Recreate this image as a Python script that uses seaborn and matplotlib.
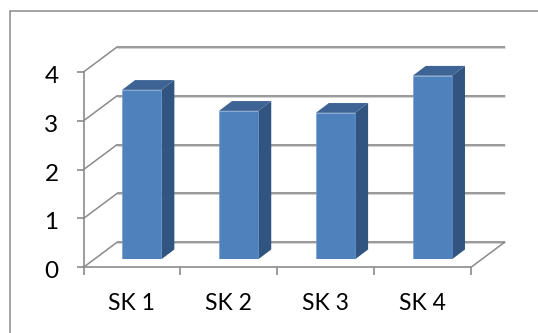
import matplotlib
matplotlib.use("Agg")
import matplotlib.pyplot as plt
from matplotlib.lines import Line2D
from matplotlib.patches import Polygon
from matplotlib.transforms import Affine2D
import pandas as pd
import seaborn as sns

categories = ["SK 1", "SK 2", "SK 3", "SK 4"]
values = [3.47, 3.04, 3.00, 3.76]
y_ticks = [0, 1, 2, 3, 4]

sns.set_theme(style="white")
plt.rcParams["font.family"] = ["Lato", "DejaVu Sans"]

WIDTH, HEIGHT, DPI = 538, 333, 100
LINE = "#8b8b8b"
HALO = "#d2d2d2"
FRONT = "#4f81bd"
SIDE = "#325480"
TOP = "#3d6494"

# Perspective offsets in pixels
WALL_DX, WALL_DY = 33.5, 25.0
BAR_DX, BAR_DY = 9.8, 8.0
DEPTH_DX, DEPTH_DY = 13.0, 9.8

fig = plt.figure(figsize=(WIDTH / DPI, HEIGHT / DPI), dpi=DPI, facecolor="white")


def frac_box(left, top, right, bottom):
    return [left / WIDTH, 1 - bottom / HEIGHT, (right - left) / WIDTH, (bottom - top) / HEIGHT]


# Outer chart border, open towards the right and bottom edges
for xs, ys in [((9.5, 9.5), (HEIGHT, 10.5)), ((9.5, WIDTH), (10.5, 10.5))]:
    fig.add_artist(Line2D([x / WIDTH for x in xs], [1 - y / HEIGHT for y in ys],
                          color=LINE, lw=1.1))

ax = fig.add_axes(frac_box(83.5, 72, 471, 267.3))
ax.set_xlim(-0.5, len(categories) - 0.5)
ax.set_ylim(0, 4)
ax.patch.set_visible(False)
sns.despine(ax=ax)
for side in ("left", "bottom"):
    ax.spines[side].set_color(LINE)
    ax.spines[side].set_linewidth(1.2)

wall = ax.transData + Affine2D().translate(WALL_DX, WALL_DY)
x_lo, x_hi = ax.get_xlim()


def depth_line(xs, ys, transform):
    """Grey rule with a faint soft edge, as used on the chart walls."""
    ax.plot(xs, ys, color=HALO, lw=2.2, transform=transform, clip_on=False,
            zorder=1, solid_capstyle="butt")
    ax.plot(xs, ys, color=LINE, lw=1.1, transform=transform, clip_on=False, zorder=1.1,
            solid_capstyle="butt")


# Back wall gridlines and the diagonals joining them to the value axis
for tick in y_ticks:
    depth_line([x_lo, x_hi], [tick, tick], wall)
    p0 = ax.transData.transform((x_lo, tick))
    p1 = wall.transform((x_lo, tick))
    ax.plot([p0[0], p1[0]], [p0[1], p1[1]], color=LINE, lw=1.1, transform=None,
            clip_on=False, zorder=1.1)

# Right edge of the floor
p0 = ax.transData.transform((x_hi, 0))
p1 = wall.transform((x_hi, 0))
ax.plot([p0[0], p1[0]], [p0[1], p1[1]], color=LINE, lw=1.1, transform=None,
        clip_on=False, zorder=1.1)

ax.set_xticks(range(len(categories)), categories)
ax.set_xticks([i - 0.5 for i in range(len(categories) + 1)], minor=True)
ax.set_yticks(y_ticks)
ax.tick_params(axis="x", which="major", length=0, pad=18.5, labelsize=16.5, labelcolor="black")
ax.tick_params(axis="x", which="minor", bottom=True, length=6, width=1.2, color=LINE)
ax.tick_params(axis="y", left=True, length=5, width=1.2, color=LINE, pad=13,
               labelsize=17.5, labelcolor="black")

# Nudge the value labels down so their digits centre on the ticks
for label in ax.get_yticklabels():
    label.set_transform(label.get_transform() + Affine2D().translate(0, -2.5))

# Bars sit on the floor, slightly in from the front edge
bar_ax = fig.add_axes(frac_box(83.5 + BAR_DX, 72 - BAR_DY, 471 + BAR_DX, 267.3 - BAR_DY))
bar_ax.patch.set_visible(False)
frame = pd.DataFrame({"category": categories, "value": values})
sns.barplot(data=frame, x="category", y="value", color=FRONT, saturation=1, width=0.405,
            ax=bar_ax, zorder=3, edgecolor="#6f9ad0", linewidth=0.4)
bar_ax.set_xlim(ax.get_xlim())
bar_ax.set_ylim(ax.get_ylim())
bar_ax.axis("off")

# Extrude each bar into a side and a top face
for bar in bar_ax.patches:
    x0, x1 = bar.get_x(), bar.get_x() + bar.get_width()
    h = bar.get_height()
    (ax0, ay0), (ax1, ay1) = bar_ax.transData.transform([(x0, 0), (x1, h)])
    side = [(ax1, ay0), (ax1 + DEPTH_DX, ay0 + DEPTH_DY),
            (ax1 + DEPTH_DX, ay1 + DEPTH_DY), (ax1, ay1)]
    top = [(ax0, ay1), (ax0 + DEPTH_DX, ay1 + DEPTH_DY),
           (ax1 + DEPTH_DX, ay1 + DEPTH_DY), (ax1, ay1)]
    bar_ax.add_patch(Polygon(side, closed=True, transform=None, facecolor=SIDE, edgecolor="none",
                             zorder=2.5, clip_on=False))
    bar_ax.add_patch(Polygon(top, closed=True, transform=None, facecolor=TOP, edgecolor="none",
                             zorder=2.5, clip_on=False))

fig.savefig("out.png", dpi=DPI)
